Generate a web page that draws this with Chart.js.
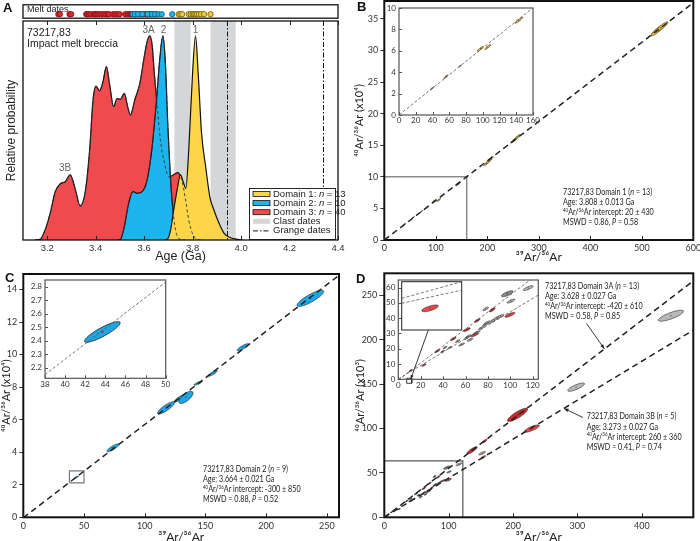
<!DOCTYPE html>
<html>
<head>
<meta charset="utf-8">
<script src="https://cdn.jsdelivr.net/npm/chart.js@4.4.1/dist/chart.umd.min.js"></script>
<style>
html,body{margin:0;padding:0;background:#fff;overflow:hidden;}
#wrap{position:relative;width:700px;height:541px;background:#fff;}
canvas{position:absolute;display:block;}
</style>
</head>
<body>
<div id="wrap">
<canvas id="cA"></canvas><canvas id="cS"></canvas>
<canvas id="cB"></canvas><canvas id="cBi"></canvas>
<canvas id="cC"></canvas><canvas id="cCi"></canvas>
<canvas id="cD"></canvas><canvas id="cDi"></canvas><canvas id="cDs"></canvas>
</div>
<script>
// ================= DATA =================
// ---- Panel A: relative probability vs age (Ga)
const ageTicks = [3.2, 3.4, 3.6, 3.8, 4.0, 4.2, 4.4];
const d3Age = [3.150,3.170,3.191,3.212,3.233,3.253,3.274,3.295,3.315,3.336,3.357,3.375,3.389,3.401,3.416,3.430,3.444,3.457,3.474,3.488,3.502,3.518,3.532,3.543,3.561,3.582,3.598,3.612,3.623,3.633,3.642,3.654,3.667,3.684,3.702,3.720,3.739,3.757,3.771,3.784,3.799,3.819,3.840];
const d3Prob = [0.000,0.003,0.049,0.131,0.237,0.275,0.286,0.319,0.253,0.167,0.237,0.441,0.686,0.755,0.732,0.776,0.850,0.768,0.654,0.694,0.690,0.719,0.654,0.613,0.686,0.768,0.882,0.972,1.001,0.956,0.817,0.654,0.490,0.376,0.310,0.319,0.330,0.286,0.196,0.098,0.033,0.003,0.000];
const d2Age = [3.490,3.502,3.518,3.536,3.554,3.571,3.592,3.612,3.633,3.651,3.664,3.677,3.687,3.698,3.709,3.720,3.733,3.750,3.770];
const d2Prob = [0.000,0.003,0.065,0.180,0.237,0.229,0.237,0.294,0.457,0.686,0.882,1.001,0.882,0.555,0.294,0.131,0.033,0.003,0.000];
const d1Age = [3.680,3.695,3.709,3.722,3.736,3.750,3.761,3.772,3.784,3.799,3.812,3.823,3.837,3.854,3.871,3.888,3.909,3.930,3.957,3.985,4.010];
const d1Prob = [0.000,0.003,0.049,0.147,0.245,0.319,0.286,0.253,0.441,0.801,1.001,0.817,0.523,0.359,0.212,0.147,0.082,0.033,0.011,0.003,0.000];
const meltD3 = [3.246,3.252,3.292,3.299,3.361,3.366,3.371,3.379,3.391,3.396,3.401,3.408,3.416,3.424,3.433,3.441,3.449,3.455,3.472,3.481,3.490,3.499,3.522,3.532,3.540,3.545,3.550,3.560,3.565,3.573,3.584,3.590,3.596,3.606,3.612,3.618,3.623,3.629,3.640,3.651];
const meltD2 = [3.553,3.562,3.575,3.592,3.615,3.632,3.645,3.660,3.672,3.716];
const meltD1 = [3.743,3.750,3.757,3.784,3.792,3.800,3.806,3.812,3.818,3.826,3.835,3.847,3.874];
const clastStart = [3.725, 3.874];
const clastEnd = [3.792, 3.978];
const grangeDates = [3.94, 4.34];
const peakNames = ['3B', '3A', '2', '1'];
const peakAge = [3.274, 3.618, 3.680, 3.812];
const peakProb = [0.353, 1.029, 1.029, 1.029];

// ---- Panel B: Domain 1 isochron (x: 39Ar/36Ar, y: 40Ar/36Ar x10^4)
const bXTicks = [0, 100, 200, 300, 400, 500, 600];
const bYTicks = [0, 5, 10, 15, 20, 25, 30, 35];
const bX  = [39.5, 56, 73, 97.2, 106, 143.2, 198, 203, 207, 252, 258, 535, 528];
const bY  = [2.49, 3.58, 4.58, 6.19, 6.35, 8.85, 12.1, 12.5, 12.9, 15.8, 16.3, 33.5, 33.0];
const bSx = [2.2, 2.5, 1.5, 3.5, 3.5, 4.5, 4.5, 5, 4.5, 7, 6, 16, 10];
const bSy = [0.14, 0.17, 0.10, 0.23, 0.23, 0.28, 0.35, 0.40, 0.35, 0.45, 0.40, 1.05, 0.70];
const bRho = [0.95, 0.93, 0.95, 0.9, 0.9, 0.93, 0.85, 0.85, 0.85, 0.93, 0.93, 0.93, 0.9];
const bSlope = 0.0626, bIcpt = 0.002;
const bInsetX = [0, 160], bInsetY = [0, 10];
const bInXTicks = [0, 20, 40, 60, 80, 100, 120, 140, 160];
const bInYTicks = [0, 2, 4, 6, 8, 10];

// ---- Panel C: Domain 2 isochron
const cXTicks = [0, 50, 100, 150, 200, 250];
const cYTicks = [0, 2, 4, 6, 8, 10, 12, 14];
const cX  = [43.7, 73.8, 117.5, 128.5, 134, 144, 156, 180.9, 236.4];
const cY  = [2.464, 4.27, 6.72, 7.30, 7.37, 8.24, 8.85, 10.45, 13.45];
const cSx = [1.77, 5.0, 7.0, 4.0, 5.8, 3.4, 3.7, 4.8, 11];
const cSy = [0.077, 0.24, 0.38, 0.22, 0.38, 0.12, 0.18, 0.22, 0.50];
const cRho = [0.88, 0.85, 0.85, 0.85, 0.7, 0.85, 0.85, 0.85, 0.85];
const cSlope = 0.0573, cIcpt = -0.03;
const cInsetX = [38, 50], cInsetY = [2.12, 2.85];
const cInXTicks = [38, 40, 42, 44, 46, 48, 50];
const cInYTicks = [2.2, 2.3, 2.4, 2.5, 2.6, 2.7, 2.8];

// ---- Panel D: Domain 3 isochrons (y x10^3)
const dXTicks = [0, 100, 200, 300, 400];
const dYTicks = [0, 50, 100, 150, 200, 250];
const dGX  = [445.3, 298, 152, 116, 100.6, 78, 79.2, 83.6, 88, 91.3, 77.7, 62.5, 64, 61, 70, 56.6, 46.1, 41.7, 39.6, 74, 53];
const dGY  = [227.2, 146.7, 72.2, 59.7, 51.2, 46.1, 36.9, 38, 40.1, 41.3, 35.8, 28.1, 25.9, 27, 30.6, 22.8, 20.8, 20.8, 18.2, 33.5, 25];
const dGSx = [19.5, 13, 5, 4.5, 3.5, 2.5, 3, 3, 3.2, 3, 2.5, 2.5, 2.5, 2, 3, 2.5, 1.8, 1.8, 1.8, 2.5, 2];
const dGSy = [6.2, 4.7, 2, 1.6, 1.3, 1.2, 1.3, 1.3, 1.3, 1.2, 1.1, 1, 1, 0.9, 1.1, 1, 0.8, 0.8, 0.8, 1, 0.9];
const dGRho = [0.8, 0.8, 0.8, 0.8, 0.8, 0.75, 0.8, 0.8, 0.8, 0.8, 0.8, 0.8, 0.8, 0.8, 0.8, 0.8, 0.8, 0.8, 0.8, 0.8, 0.8];
const dKX = [97.3], dKY = [56], dKSx = [5.2], dKSy = [1.9], dKRho = [0.75];
const dAX  = [206.9, 136.5, 156, 83.9, 70.5, 61.2, 49.1, 34.8, 11];
const dAY  = [115.4, 75.6, 86, 45.5, 38.5, 32.5, 26.5, 18.5, 5.7];
const dASx = [15.6, 7.8, 3.5, 2.5, 2.5, 3, 2.5, 2.2, 1.5];
const dASy = [7.5, 4, 2, 1.4, 1.2, 1.2, 1.1, 1, 0.7];
const dARho = [0.85, 0.85, 0.8, 0.8, 0.8, 0.8, 0.8, 0.8, 0.8];
const dBX  = [229.2, 153.6, 99.7, 68, 22.9];
const dBY  = [100, 67.7, 42.2, 29, 9.3];
const dBSx = [11.7, 4, 4.5, 3.5, 2];
const dBSy = [4.1, 1.8, 1.6, 1.2, 0.8];
const dBRho = [0.8, 0.8, 0.8, 0.8, 0.8];
const dSlopeA = 0.556, dIcptA = -0.42;
const dSlopeB = 0.439, dIcptB = 0.26;
const dZoomX = [0, 122], dZoomY = [0, 63.5];
const dInsetX = [0, 125], dInsetY = [0, 65];
const dInXTicks = [0, 20, 40, 60, 80, 100, 120];
const dInYTicks = [0, 10, 20, 30, 40, 50, 60];
const dSqX = [7.5, 12], dSqY = [-2.6, 0.7];
const dSubX = [11.5, 15.5], dSubY = [1.73, 8.2];
const dSubEX = [13.39], dSubEY = [4.63], dSubESx = [0.55], dSubESy = [0.45], dSubERho = [0.7];

// ================= HELPERS =================
const FA = '"Liberation Sans", Arial, sans-serif';
const FB = 'Lato, "Liberation Sans", sans-serif';
const KB = 0.8; // horizontal condensing of the annotation font
function place(id, l, t, w, h) {
  const c = document.getElementById(id);
  c.width = w; c.height = h;
  c.style.left = l + 'px'; c.style.top = t + 'px';
  c.style.width = w + 'px'; c.style.height = h + 'px';
  return c;
}
const zip = (xs, ys) => xs.map((x, i) => ({ x: x, y: ys[i] }));
const zipE = (xs, ys, sx, sy, r) => xs.map((x, i) => ({ x: x, y: ys[i], sx: sx[i], sy: sy[i], r: r[i] }));
const isoPts = (m, b, x0, x1) => [{ x: x0, y: b + m * x0 }, { x: x1, y: b + m * x1 }];
const boxOpen = (bx, by) => [{ x: bx[0], y: by[1] }, { x: bx[1], y: by[1] }, { x: bx[1], y: by[0] }];
const boxClosed = (bx, by) => [{ x: bx[0], y: by[0] }, { x: bx[0], y: by[1] }, { x: bx[1], y: by[1] }, { x: bx[1], y: by[0] }, { x: bx[0], y: by[0] }];

function lin(min, max, ticks, fmt, o) {
  return {
    type: 'linear', min: min, max: max, display: o.display !== false,
    afterBuildTicks: s => { s.ticks = ticks.map(v => ({ value: v })); },
    afterFit: s => {
      if (o.w != null) s.width = o.w;
      if (o.h != null) s.height = o.h;
      s.paddingLeft = 0; s.paddingRight = 0; s.paddingTop = 0; s.paddingBottom = 0;
    },
    grid: o.out ? { display: true, drawOnChartArea: false, drawTicks: true, tickLength: o.out, tickWidth: 1, tickColor: '#333', color: '#333' } : { display: false, drawTicks: false },
    border: { display: false },
    ticks: { display: ticks.length > 0, font: { family: o.fam, size: o.size }, color: '#333', padding: o.pad || 2, autoSkip: false, maxRotation: 0, callback: v => fmt(v) },
    title: o.title ? { display: true, text: o.title, color: '#222', font: { family: o.fam, size: o.tsize }, padding: o.tpad } : { display: false }
  };
}
function baseOpts(pad, scales, plug) {
  return {
    responsive: false, animation: false, events: [], devicePixelRatio: 1,
    layout: { padding: pad },
    scales: scales,
    plugins: Object.assign({ legend: { display: false }, tooltip: { enabled: false } }, plug || {})
  };
}
// rich text: segments [text, style]; style 'italic' or 'sup'
function rich(ctx, x, y, segs, size, fam, color, align, k) {
  k = k || 1;
  const fontOf = s => (s[1] === 'sup' ? (size * 0.62) + 'px ' : (s[1] || '') + ' ' + size + 'px ') + fam;
  ctx.fillStyle = color || '#222'; ctx.textBaseline = 'middle'; ctx.textAlign = 'left';
  let w = 0;
  for (const s of segs) { ctx.font = fontOf(s); w += ctx.measureText(s[0]).width; }
  ctx.save();
  ctx.translate(align === 'center' ? x - w * k / 2 : x, y); ctx.scale(k, 1);
  let cx = 0;
  for (const s of segs) { ctx.font = fontOf(s); ctx.fillText(s[0], cx, s[1] === 'sup' ? -size * 0.3 : 0); cx += ctx.measureText(s[0]).width; }
  ctx.restore();
}
function arrow(ctx, x0, y0, x1, y1, head) {
  ctx.save(); ctx.strokeStyle = '#222'; ctx.fillStyle = '#222'; ctx.lineWidth = 0.9;
  ctx.beginPath(); ctx.moveTo(x0, y0); ctx.lineTo(x1, y1); ctx.stroke();
  const a = Math.atan2(y1 - y0, x1 - x0), h = head || 5;
  ctx.beginPath(); ctx.moveTo(x1, y1);
  ctx.lineTo(x1 - h * Math.cos(a - 0.35), y1 - h * Math.sin(a - 0.35));
  ctx.lineTo(x1 - h * Math.cos(a + 0.35), y1 - h * Math.sin(a + 0.35));
  ctx.closePath(); ctx.fill(); ctx.restore();
}
// annotation plugin working in page coordinates; X/Y convert data values to page pixels
function annot(id, ox, oy, fn) {
  return { id: id, afterDraw(chart) {
    const c = chart.ctx, xs = chart.scales.x, ys = chart.scales.y;
    const X = v => xs.getPixelForValue(v) + ox, Y = v => ys.getPixelForValue(v) + oy;
    c.save(); c.translate(-ox, -oy); fn(c, X, Y); c.restore(); } };
}
const seg40 = [['40', 'sup'], ['Ar/'], ['36', 'sup'], ['Ar intercept: ']];

// shared plugins
const framePlugin = { id: 'frame', afterDatasetsDraw(chart, args, o) {
  if (!o || !o.w) return; const a = chart.chartArea, c = chart.ctx;
  c.save(); c.strokeStyle = o.color || '#111'; c.lineWidth = o.w;
  c.strokeRect(a.left, a.top, a.right - a.left, a.bottom - a.top); c.restore(); } };
const bgPlugin = { id: 'bg', beforeDraw(chart, args, o) {
  if (!o || !o.color) return; const a = chart.chartArea, c = chart.ctx;
  c.save(); c.fillStyle = o.color; c.fillRect(a.left, a.top, a.right - a.left, a.bottom - a.top); c.restore(); } };
const tickPlugin = { id: 'inTicks', afterDatasetsDraw(chart, args, o) {
  if (!o || !o.len) return; const c = chart.ctx, a = chart.chartArea, xs = chart.scales.x, ys = chart.scales.y;
  c.save(); c.strokeStyle = o.color || '#222'; c.lineWidth = o.w || 1; c.beginPath();
  if (o.bottom || o.top) for (const t of xs.ticks) { const p = Math.round(xs.getPixelForValue(t.value)) + 0.5;
    if (o.bottom) { c.moveTo(p, a.bottom); c.lineTo(p, a.bottom - o.len); }
    if (o.top) { c.moveTo(p, a.top); c.lineTo(p, a.top + o.len); } }
  if (o.left || o.right) for (const t of ys.ticks) { const p = Math.round(ys.getPixelForValue(t.value)) + 0.5;
    if (o.left) { c.moveTo(a.left, p); c.lineTo(a.left + o.len, p); }
    if (o.right) { c.moveTo(a.right, p); c.lineTo(a.right - o.len, p); } }
  c.stroke(); c.restore(); } };
const ellPlugin = { id: 'ell', beforeDatasetsDraw(chart) {
  const c = chart.ctx, a = chart.chartArea, xs = chart.scales.x, ys = chart.scales.y;
  c.save(); c.beginPath(); c.rect(a.left, a.top, a.right - a.left, a.bottom - a.top); c.clip();
  chart.data.datasets.forEach(ds => {
    if (!ds.ellipse) return;
    ds.data.forEach(p => {
      const N = 60, q = Math.sqrt(1 - p.r * p.r);
      c.beginPath();
      for (let k = 0; k <= N; k++) {
        const t = 2 * Math.PI * k / N;
        const X = xs.getPixelForValue(p.x + p.sx * Math.cos(t));
        const Y = ys.getPixelForValue(p.y + p.sy * (p.r * Math.cos(t) + q * Math.sin(t)));
        if (k) c.lineTo(X, Y); else c.moveTo(X, Y);
      }
      c.closePath(); c.fillStyle = ds.ellFill; c.fill();
      c.lineWidth = ds.ellLine || 0.6; c.strokeStyle = '#222'; c.stroke();
      const ds2 = ds.dotSize || 1;
      c.fillStyle = ds.dotColor || '#333';
      c.fillRect(xs.getPixelForValue(p.x) - ds2 / 2, ys.getPixelForValue(p.y) - ds2 / 2, ds2, ds2);
    });
  });
  c.restore(); } };
Chart.register(framePlugin, bgPlugin, tickPlugin, ellPlugin);

const lineDS = (data, col, w, dash) => ({ type: 'line', data: data, borderColor: col, borderWidth: w, borderDash: dash || [], pointRadius: 0, fill: false, tension: 0 });
const ellDS = (data, fill, extra) => Object.assign({ type: 'scatter', data: data, ellipse: true, ellFill: fill, pointRadius: 0, showLine: false }, extra || {});

// ================= PANEL A =================
const RED = '#ef4a4d', BLUE = '#1cb4ec', YEL = '#fdd548', GREYBAND = '#d5d6d8';
const bandsPlugin = { id: 'bandsA',
  beforeDatasetsDraw(chart) {
    const c = chart.ctx, a = chart.chartArea, xs = chart.scales.x;
    c.save(); c.fillStyle = GREYBAND;
    clastStart.forEach((s, i) => { const x0 = xs.getPixelForValue(s), x1 = xs.getPixelForValue(clastEnd[i]); c.fillRect(x0, a.top, x1 - x0, a.bottom - a.top); });
    c.restore();
  },
  afterDatasetsDraw(chart) {
    const c = chart.ctx, a = chart.chartArea, xs = chart.scales.x;
    c.save(); c.strokeStyle = '#111'; c.lineWidth = 1; c.setLineDash([5, 2, 1.5, 2]);
    grangeDates.forEach(g => { const x = Math.round(xs.getPixelForValue(g)) + 0.5; c.beginPath(); c.moveTo(x, a.top); c.lineTo(x, a.bottom); c.stroke(); });
    c.restore();
  } };
const annotA = annot('annotA', 0, 0, (c, X, Y) => {
  c.font = 'bold 13px ' + FA; c.fillStyle = '#111'; c.textBaseline = 'middle'; c.textAlign = 'left';
  c.fillText('A', 3, 8);
  rich(c, 27, 33, [['73217,83']], 10.5, FA, '#222');
  rich(c, 27, 44, [['Impact melt breccia']], 10.5, FA, '#222');
  peakNames.forEach((n, i) => rich(c, X(peakAge[i]), Y(peakProb[i]), [[n]], 10, FA, '#666', 'center'));
  // legend
  const L = 249, T = 188, R = 335, B = 239;
  c.save(); c.fillStyle = '#fff'; c.fillRect(L, T, R - L, B - T);
  c.strokeStyle = '#111'; c.lineWidth = 0.9; c.strokeRect(L + 0.5, T + 0.5, R - L, B - T); c.restore();
  const rows = [
    [YEL, [['Domain 1: '], ['n', 'italic'], [' = 13']]],
    [BLUE, [['Domain 2: '], ['n', 'italic'], [' = 10']]],
    [RED, [['Domain 3: '], ['n', 'italic'], [' = 40']]],
    ['clast', [['Clast dates']]],
    ['grange', [['Grange dates']]]
  ];
  rows.forEach((r, i) => {
    const y = 194 + i * 9.1;
    c.save();
    if (r[0] === 'grange') { c.strokeStyle = '#111'; c.lineWidth = 1; c.setLineDash([5, 2, 1.5, 2]); c.beginPath(); c.moveTo(253, y + 0.5); c.lineTo(270, y + 0.5); c.stroke(); }
    else if (r[0] === 'clast') { c.fillStyle = GREYBAND; c.fillRect(253, y - 2.5, 17, 5); }
    else { c.fillStyle = r[0]; c.fillRect(253, y - 2.5, 17, 5); c.strokeStyle = '#111'; c.lineWidth = 0.8; c.strokeRect(253, y - 2.5, 17, 5); }
    c.restore();
    rich(c, 273, y, r[1], 9.5, FA, '#222');
  });
});
new Chart(place('cA', 0, 0, 350, 270), {
  type: 'line',
  data: { datasets: [
    { data: zip(d3Age, d3Prob), borderColor: '#333', borderWidth: 0.9, borderDash: [3, 2.5], fill: false, pointRadius: 0, cubicInterpolationMode: 'monotone' },
    { data: zip(d2Age, d2Prob), borderColor: '#333', borderWidth: 0.9, borderDash: [3, 2.5], fill: false, pointRadius: 0, cubicInterpolationMode: 'monotone' },
    { data: zip(d1Age, d1Prob), backgroundColor: YEL, borderColor: '#111', borderWidth: 1.2, fill: 'origin', pointRadius: 0, cubicInterpolationMode: 'monotone' },
    { data: zip(d2Age, d2Prob), backgroundColor: BLUE, borderColor: '#111', borderWidth: 1.2, fill: 'origin', pointRadius: 0, cubicInterpolationMode: 'monotone' },
    { data: zip(d3Age, d3Prob), backgroundColor: RED, borderColor: '#111', borderWidth: 1.2, fill: 'origin', pointRadius: 0, cubicInterpolationMode: 'monotone' }
  ] },
  options: baseOpts({ left: 0, top: 21, right: 12, bottom: 0 }, {
    x: lin(3.1, 4.4, ageTicks, v => v.toFixed(1), { fam: FA, size: 9.5, h: 30, pad: 3, title: 'Age (Ga)', tsize: 12.5, tpad: { bottom: 6 } }),
    y: lin(0, 1.074, [], v => '', { fam: FA, size: 9, w: 23, title: 'Relative probability', tsize: 12, tpad: { top: 4 } })
  }, { frame: { w: 1.3 }, inTicks: { len: 4, top: true, bottom: true } }),
  plugins: [bandsPlugin, annotA]
});

// melt dates strip
const annotS = annot('annotS', 0, 0, (c) => { rich(c, 27, 9.5, [['Melt dates']], 9, FA, '#222'); });
const dotDS = (vals, fill, edge) => ({ data: vals.map(v => ({ x: v, y: 0.3 })), backgroundColor: fill, borderColor: edge, borderWidth: 0.8, pointRadius: 2.7 });
new Chart(place('cS', 0, 0, 350, 23), {
  type: 'scatter',
  data: { datasets: [ dotDS(meltD1, '#f2c933', '#6b5a12'), dotDS(meltD2, BLUE, '#0f5a7c'), dotDS(meltD3, '#e3262b', '#7d1515') ] },
  options: baseOpts({ left: 23, top: 2, right: 12, bottom: 2 }, {
    x: lin(3.1, 4.4, [], v => '', { display: false }),
    y: lin(0, 1, [], v => '', { display: false })
  }, { frame: { w: 1.3 } }),
  plugins: [annotS]
});

// ================= PANEL B =================
const annotB = annot('annotB', 350, 0, (c) => {
  c.font = 'bold 13px ' + FA; c.fillStyle = '#111'; c.textBaseline = 'middle'; c.textAlign = 'left';
  c.fillText('B', 357, 7);
  const x = 563, f = 9;
  rich(c, x, 192.5, [['73217,83 Domain 1 ('], ['n', 'italic'], [' = 13)']], f, FB, '#222', 'left', KB);
  rich(c, x, 202.5, [['Age: 3.808 \u00b1 0.013 Ga']], f, FB, '#222', 'left', KB);
  rich(c, x, 212.5, seg40.concat([['20 \u00b1 430']]), f, FB, '#222', 'left', KB);
  rich(c, x, 222.5, [['MSWD = 0.86, '], ['P', 'italic'], [' = 0.58']], f, FB, '#222', 'left', KB);
});
new Chart(place('cB', 350, 0, 350, 270), {
  type: 'scatter',
  data: { datasets: [
    lineDS(isoPts(bSlope, bIcpt, 0, 600), '#222', 1.5, [6, 4]),
    lineDS(boxOpen(bInsetX, bInsetY), '#8a8a8a', 1.5),
    ellDS(zipE(bX, bY, bSx, bSy, bRho), '#f8cc2c')
  ] },
  options: baseOpts({ left: 0, top: 1, right: 6.7, bottom: 0 }, {
    x: lin(0, 600, bXTicks, v => String(v), { fam: FB, size: 9, h: 30, pad: 3, title: '\u00b3\u2079Ar/\u00b3\u2076Ar', tsize: 12, tpad: { bottom: 6 } }),
    y: lin(0, 37.85, bYTicks, v => String(v), { fam: FB, size: 9, w: 34.3, out: 4, pad: 2, title: '\u2074\u2070Ar/\u00b3\u2076Ar (x10\u2074)', tsize: 11, tpad: { top: 2.4 } })
  }, { frame: { w: 2 }, inTicks: { len: 4, bottom: true } }),
  plugins: [annotB]
});
new Chart(place('cBi', 384, 3, 162, 125), {
  type: 'scatter',
  data: { datasets: [
    lineDS(isoPts(bSlope, bIcpt, 0, 160), '#555', 0.8, [3, 2]),
    ellDS(zipE(bX, bY, bSx, bSy, bRho), '#f8cc2c')
  ] },
  options: baseOpts({ left: 0, top: 5, right: 13, bottom: 0 }, {
    x: lin(bInsetX[0], bInsetX[1], bInXTicks, v => String(v), { fam: FB, size: 8, h: 13, pad: 1 }),
    y: lin(bInsetY[0], bInsetY[1], bInYTicks, v => String(v), { fam: FB, size: 8, w: 15, pad: 3 })
  }, { bg: { color: '#fff' }, frame: { w: 1.2, color: '#555' }, inTicks: { len: 3, bottom: true, left: true, color: '#555' } })
});

// ================= PANEL C =================
const annotC = annot('annotC', 0, 270, (c) => {
  c.font = 'bold 13px ' + FA; c.fillStyle = '#111'; c.textBaseline = 'middle'; c.textAlign = 'left';
  c.fillText('C', 5, 278);
  const x = 203, f = 9;
  rich(c, x, 469.5, [['73217,83 Domain 2 ('], ['n', 'italic'], [' = 9)']], f, FB, '#222', 'left', KB);
  rich(c, x, 479.5, [['Age: 3.664 \u00b1 0.021 Ga']], f, FB, '#222', 'left', KB);
  rich(c, x, 489.5, seg40.concat([['-300 \u00b1 850']]), f, FB, '#222', 'left', KB);
  rich(c, x, 499.5, [['MSWD = 0.88, '], ['P', 'italic'], [' = 0.52']], f, FB, '#222', 'left', KB);
});
new Chart(place('cC', 0, 270, 350, 271), {
  type: 'scatter',
  data: { datasets: [
    lineDS(isoPts(cSlope, cIcpt, 0, 260), '#222', 1.5, [6, 4]),
    lineDS(boxClosed(cInsetX, cInsetY), '#777', 1.2),
    ellDS(zipE(cX, cY, cSx, cSy, cRho), '#1ea6e2')
  ] },
  options: baseOpts({ left: 0, top: 4, right: 11, bottom: 0 }, {
    x: lin(0, 260, cXTicks, v => String(v), { fam: FB, size: 9, h: 23.7, pad: 3, title: '\u00b3\u2079Ar/\u00b3\u2076Ar', tsize: 12, tpad: { bottom: -3 } }),
    y: lin(0, 14.95, cYTicks, v => String(v), { fam: FB, size: 9, w: 23.3, out: 4, pad: 2, title: '\u2074\u2070Ar/\u00b3\u2076Ar (x10\u2074)', tsize: 11, tpad: { top: 0 } })
  }, { frame: { w: 2 }, inTicks: { len: 4, bottom: true } }),
  plugins: [annotC]
});
new Chart(place('cCi', 25, 274, 145, 118), {
  type: 'scatter',
  data: { datasets: [
    lineDS(isoPts(cSlope, cIcpt, 38, 50), '#555', 0.8, [3, 2]),
    ellDS(zipE(cX, cY, cSx, cSy, cRho), '#1ea6e2', { ellLine: 0.8, dotColor: '#d02020', dotSize: 2 })
  ] },
  options: baseOpts({ left: 0, top: 6, right: 4.3, bottom: 0 }, {
    x: lin(cInsetX[0], cInsetX[1], cInXTicks, v => String(v), { fam: FB, size: 8, h: 13.7, pad: 1 }),
    y: lin(cInsetY[0], cInsetY[1], cInYTicks, v => v.toFixed(1), { fam: FB, size: 8, w: 20, pad: 3 })
  }, { bg: { color: '#fff' }, frame: { w: 1.2, color: '#555' }, inTicks: { len: 3, bottom: true, left: true, color: '#555' } })
});

// ================= PANEL D =================
const annotD = annot('annotD', 350, 270, (c, X, Y) => {
  c.font = 'bold 13px ' + FA; c.fillStyle = '#111'; c.textBaseline = 'middle'; c.textAlign = 'left';
  c.fillText('D', 356, 279);
  const f = 9;
  let x = 545;
  rich(c, x, 286, [['73217,83 Domain 3A ('], ['n', 'italic'], [' = 13)']], f, FB, '#222', 'left', KB);
  rich(c, x, 296.5, [['Age: 3.628 \u00b1 0.027 Ga']], f, FB, '#222', 'left', KB);
  rich(c, x, 306.5, seg40.concat([['-420 \u00b1 610']]), f, FB, '#222', 'left', KB);
  rich(c, x, 316.5, [['MSWD = 0.58, '], ['P', 'italic'], [' = 0.85']], f, FB, '#222', 'left', KB);
  x = 586.7;
  rich(c, x, 416.5, [['73217,83 Domain 3B ('], ['n', 'italic'], [' = 5)']], f, FB, '#222', 'left', KB);
  rich(c, x, 427, [['Age: 3.273 \u00b1 0.027 Ga']], f, FB, '#222', 'left', KB);
  rich(c, x, 437, seg40.concat([['260 \u00b1 360']]), f, FB, '#222', 'left', KB);
  rich(c, x, 447, [['MSWD = 0.41, '], ['P', 'italic'], [' = 0.74']], f, FB, '#222', 'left', KB);
  arrow(c, 586.5, 323.5, X(342), Y(dIcptA + dSlopeA * 342), 5);
  arrow(c, 583, 417.5, X(279), Y(dIcptB + dSlopeB * 279), 5);
});
const dSets = (isInset) => [
  lineDS(isoPts(dSlopeA, dIcptA, 0, isInset ? 125 : 480), isInset ? '#555' : '#222', isInset ? 0.8 : 1.5, isInset ? [3, 2] : [6, 4]),
  lineDS(isoPts(dSlopeB, dIcptB, 0, isInset ? 125 : 480), isInset ? '#555' : '#222', isInset ? 0.8 : 1.5, isInset ? [3, 2] : [6, 4]),
  ellDS(zipE(dGX, dGY, dGSx, dGSy, dGRho), '#b9b9b9'),
  ellDS(zipE(dKX, dKY, dKSx, dKSy, dKRho), '#8a8a8a'),
  ellDS(zipE(dBX, dBY, dBSx, dBSy, dBRho), '#e9484b'),
  ellDS(zipE(dAX, dAY, dASx, dASy, dARho), '#cf2a2a')
];
new Chart(place('cD', 350, 270, 350, 271), {
  type: 'scatter',
  data: { datasets: dSets(false).concat([lineDS(boxOpen(dZoomX, dZoomY), '#555', 1.2)]) },
  options: baseOpts({ left: 0, top: 3.3, right: 6.7, bottom: 0 }, {
    x: lin(0, 480, dXTicks, v => String(v), { fam: FB, size: 9, h: 23.7, pad: 3, title: '\u00b3\u2079Ar/\u00b3\u2076Ar', tsize: 12, tpad: { bottom: -3 } }),
    y: lin(0, 275, dYTicks, v => String(v), { fam: FB, size: 9, w: 34.3, out: 5, pad: 2, title: '\u2074\u2070Ar/\u00b3\u2076Ar (x10\u00b3)', tsize: 11, tpad: { top: 3.4 } })
  }, { frame: { w: 2 }, inTicks: { len: 4, bottom: true } }),
  plugins: [annotD]
});
const annotDi = annot('annotDi', 384, 274, (c, X, Y) => {
  arrow(c, 428.3, 330, X(dSqX[1]) - 1, Y(dSqY[1]) + 1, 4.5);
});
new Chart(place('cDi', 384, 274, 160, 120), {
  type: 'scatter',
  data: { datasets: dSets(true).concat([Object.assign(lineDS(boxClosed(dSqX, dSqY), '#222', 0.9), { clip: false })]) },
  options: baseOpts({ left: 0, top: 6, right: 5.7, bottom: 0 }, {
    x: lin(dInsetX[0], dInsetX[1], dInXTicks, v => String(v), { fam: FB, size: 8, h: 14.7, pad: 1 }),
    y: lin(dInsetY[0], dInsetY[1], dInYTicks, v => String(v), { fam: FB, size: 8, w: 14.3, pad: 3 })
  }, { bg: { color: '#fff' }, frame: { w: 1.2, color: '#555' }, inTicks: { len: 3, bottom: true, left: true, color: '#555' } }),
  plugins: [annotDi]
});
new Chart(place('cDs', 401, 281, 62, 50), {
  type: 'scatter',
  data: { datasets: [
    lineDS(isoPts(dSlopeA, dIcptA, dSubX[0], dSubX[1]), '#555', 0.8, [3, 2]),
    lineDS(isoPts(dSlopeB, dIcptB, dSubX[0], dSubX[1]), '#555', 0.8, [3, 2]),
    ellDS(zipE(dSubEX, dSubEY, dSubESx, dSubESy, dSubERho), '#e9484b')
  ] },
  options: baseOpts({ left: 0.7, top: 0.7, right: 1.3, bottom: 1 }, {
    x: lin(dSubX[0], dSubX[1], [], v => '', { display: false }),
    y: lin(dSubY[0], dSubY[1], [], v => '', { display: false })
  }, { bg: { color: '#fff' }, frame: { w: 1, color: '#222' } })
});
</script>
</body>
</html>
